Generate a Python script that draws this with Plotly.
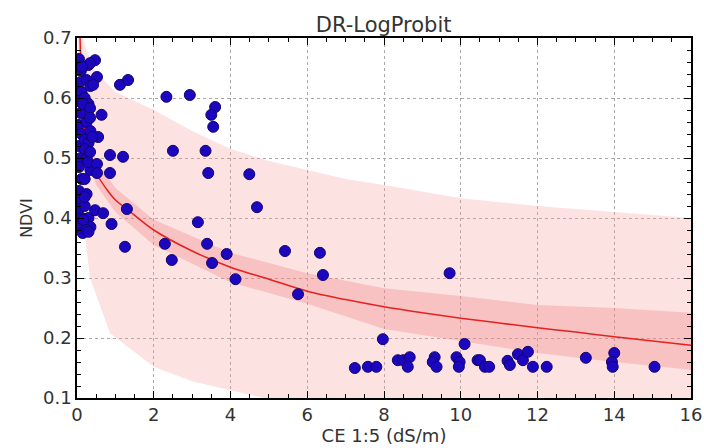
import plotly.graph_objects as go

# ---- data ----
ce_points = [
    # dense column near zero
    0.05, 0.10, 0.05, 0.12, 0.05, 0.10, 0.05, 0.12, 0.05, 0.10, 0.05, 0.12, 0.05, 0.10, 0.05, 0.12, 0.05,
    0.20, 0.25, 0.20, 0.25, 0.20, 0.25, 0.20, 0.25, 0.30, 0.35, 0.30, 0.35, 0.30, 0.35, 0.30, 0.35, 0.15,
    # left cluster
    0.47, 0.34, 0.13, 0.52, 0.42, 1.12, 1.33, 0.15, 0.34, 0.64, 0.34, 0.55, 0.40, 0.20, 0.34, 0.86, 1.20,
    0.29, 0.52, 0.52, 0.86, 0.20, 1.30, 0.47, 0.68, 0.90, 0.16, 0.25, 0.30, 1.25,
    # middle
    2.33, 2.94, 3.60, 3.50, 3.55, 2.50, 3.35, 3.42, 4.49, 4.69, 3.15, 2.29, 2.47, 3.39, 3.52, 3.90, 4.13,
    5.42, 6.33, 6.41, 5.76, 9.71,
    # bottom group
    7.97, 7.24, 7.58, 7.80, 8.36, 8.50, 8.67, 8.62, 9.32, 9.27, 9.37, 9.89, 9.97, 9.95, 10.10, 10.44,
    10.50, 10.63, 10.74, 11.22, 11.28, 11.49, 11.62, 11.75, 11.88, 12.24, 13.26, 14.00, 13.94, 13.96, 15.05,
]
ndvi_points = [
    0.665, 0.645, 0.625, 0.610, 0.595, 0.575, 0.555, 0.540, 0.520, 0.500, 0.485, 0.465, 0.445, 0.430, 0.415, 0.400, 0.385,
    0.420, 0.440, 0.465, 0.500, 0.530, 0.560, 0.600, 0.630, 0.655, 0.620, 0.590, 0.545, 0.525, 0.480, 0.400, 0.385, 0.375,
    0.663, 0.658, 0.652, 0.635, 0.622, 0.622, 0.630, 0.590, 0.583, 0.572, 0.567, 0.535, 0.535, 0.515, 0.510, 0.505, 0.502,
    0.493, 0.490, 0.475, 0.475, 0.435, 0.415, 0.413, 0.408, 0.390, 0.397, 0.380, 0.377, 0.352,
    0.602, 0.605, 0.585, 0.572, 0.552, 0.512, 0.512, 0.475, 0.473, 0.418, 0.393, 0.357, 0.330, 0.357, 0.325, 0.340, 0.298,
    0.345, 0.342, 0.305, 0.273, 0.308,
    0.198, 0.150, 0.152, 0.152, 0.163, 0.163, 0.168, 0.152, 0.168, 0.160, 0.152, 0.168, 0.160, 0.152, 0.190, 0.163,
    0.163, 0.152, 0.152, 0.162, 0.155, 0.173, 0.163, 0.177, 0.152, 0.152, 0.167, 0.175, 0.160, 0.152, 0.152,
]

curve_ce = [0.08, 0.12, 0.2, 0.3, 0.5, 0.75, 1.0, 1.3, 2.0, 3.0, 4.0, 5.0, 6.0, 7.0, 8.0, 9.0, 10.0, 11.0, 12.0, 13.0, 14.0, 15.0, 16.0]
curve_ndvi = [0.70, 0.62, 0.55, 0.51, 0.475, 0.45, 0.43, 0.415, 0.38, 0.345, 0.318, 0.298, 0.278, 0.264, 0.252, 0.242, 0.233, 0.225, 0.217, 0.21, 0.202, 0.195, 0.188]

inner_ce = [0.1, 0.2, 0.5, 1.0, 2.0, 4.0, 6.0, 8.0, 10.0, 12.0, 14.0, 16.0]
inner_upper = [0.72, 0.575, 0.495, 0.45, 0.397, 0.342, 0.308, 0.283, 0.27, 0.255, 0.25, 0.242]
inner_lower = [0.68, 0.53, 0.455, 0.41, 0.355, 0.293, 0.257, 0.215, 0.195, 0.175, 0.16, 0.147]

outer_ce = [0.02, 0.15, 0.4, 1.0, 2.0, 3.0, 4.0, 5.0, 6.0, 7.0, 8.0, 10.0, 12.0, 14.0, 16.0]
outer_upper = [0.72, 0.70, 0.65, 0.61, 0.58, 0.545, 0.515, 0.495, 0.48, 0.465, 0.455, 0.433, 0.42, 0.41, 0.40]
outer_lower_ce = [0.02, 0.05, 0.15, 0.34, 0.86, 2.0, 3.0, 4.0, 5.0, 8.0, 12.0, 16.0]
outer_lower = [0.72, 0.50, 0.40, 0.30, 0.208, 0.152, 0.128, 0.113, 0.098, 0.075, 0.055, 0.04]

x_ticks = [0, 2, 4, 6, 8, 10, 12, 14, 16]
y_ticks = [0.1, 0.2, 0.3, 0.4, 0.5, 0.6, 0.7]

fig = go.Figure()

fig.add_trace(go.Scatter(
    x=outer_ce + outer_lower_ce[::-1], y=outer_upper + outer_lower[::-1],
    fill="toself", fillcolor="rgba(248,160,160,0.30)", line=dict(width=0),
    mode="lines", hoverinfo="skip", showlegend=False))
fig.add_trace(go.Scatter(
    x=inner_ce + inner_ce[::-1], y=inner_upper + inner_lower[::-1],
    fill="toself", fillcolor="rgba(240,120,120,0.30)", line=dict(width=0),
    mode="lines", hoverinfo="skip", showlegend=False))
fig.add_trace(go.Scatter(
    x=curve_ce, y=curve_ndvi, mode="lines", line=dict(color="#e52222", width=1.5, shape="spline"),
    showlegend=False))
fig.add_trace(go.Scatter(
    x=ce_points, y=ndvi_points, mode="markers",
    marker=dict(size=11, color="#1c06be", line=dict(color="#100670", width=1)),
    showlegend=False))

axis_common = dict(
    showline=True, linecolor="black", linewidth=1.5, mirror="ticks",
    ticks="inside", ticklen=7, tickwidth=1, tickcolor="black",
    showgrid=True, gridcolor="#a8a8a8", griddash="dot", gridwidth=1,
    zeroline=False, automargin=False,
    tickfont=dict(family="DejaVu Sans", size=18, color="#333333"),
    minor=dict(ticks="inside", ticklen=4, tickcolor="black", showgrid=False),
)

fig.update_xaxes(range=[0, 16], tickvals=x_ticks, ticktext=[str(v) for v in x_ticks],
                 minor_dtick=0.5,
                 title=dict(text="CE 1:5 (dS/m)", font=dict(family="DejaVu Sans", size=18, color="#333333"), standoff=2),
                 **axis_common)
fig.update_yaxes(range=[0.1, 0.7], tickvals=y_ticks, ticktext=[f"{v:.1f}" for v in y_ticks],
                 minor_dtick=0.02,
                 title=dict(text="NDVI", font=dict(family="DejaVu Sans", size=16, color="#333333"), standoff=6),
                 **axis_common)

fig.update_layout(
    width=704, height=448,
    margin=dict(l=77, r=13, t=38, b=50),
    paper_bgcolor="white", plot_bgcolor="white",
    title=dict(text="DR-LogProbit", x=0.545, xanchor="center", y=0.945, yanchor="middle",
               font=dict(family="DejaVu Sans", size=21, color="#333333")),
)

fig.write_html("out.html")
